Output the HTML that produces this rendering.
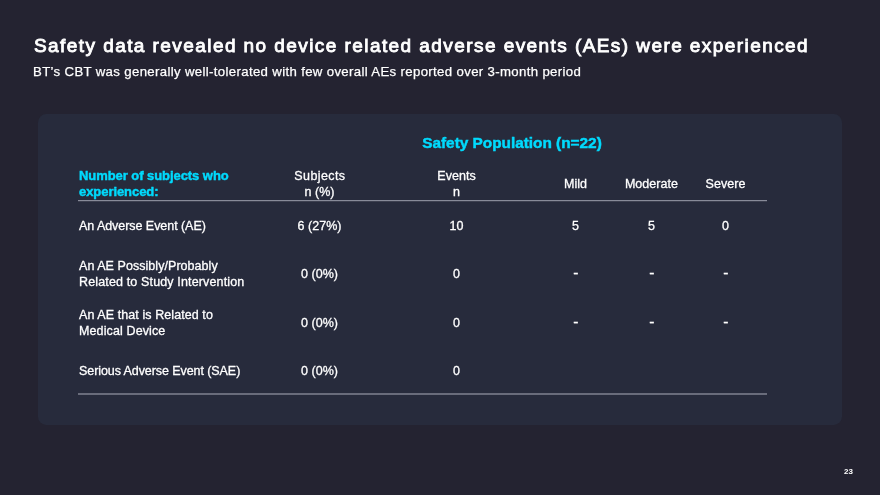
<!DOCTYPE html>
<html><head><meta charset="utf-8">
<style>
html,body{margin:0;padding:0}
body{width:880px;height:495px;background:#242331;position:relative;overflow:hidden;font-family:"Liberation Sans",sans-serif;color:#fff}
.t{position:absolute;white-space:nowrap;line-height:1}
.c{transform:translateX(-50%)}
#title{left:34px;top:36px;font-size:19px;font-weight:normal;-webkit-text-stroke:0.85px #fff;letter-spacing:1.43px}
#sub{left:33px;top:65px;font-size:13.2px;letter-spacing:0.35px;-webkit-text-stroke:0.25px #fff}
#card{position:absolute;left:37.8px;top:113.5px;width:804.7px;height:311.8px;background:#272b3c;border-radius:8.5px}
.cy{color:#00dafd;font-weight:bold;-webkit-text-stroke:0.45px #00dafd}
.hl{position:absolute;left:77.6px;width:689.6px}
.r{font-size:12.5px;-webkit-text-stroke:0.3px #fff;letter-spacing:0.05px}
.h{font-size:13px}
</style></head><body>
<div id="title" class="t">Safety data revealed no device related adverse events (AEs) were experienced</div>
<div id="sub" class="t">BT’s CBT was generally well-tolerated with few overall AEs reported over 3-month period</div>
<div id="card"></div>
<div class="t cy c" style="left:512px;top:134.8px;font-size:15.4px;letter-spacing:-0.02px">Safety Population (n=22)</div>
<div class="t cy h" style="left:79px;top:169.3px;letter-spacing:-0.06px">Number of subjects who</div>
<div class="t cy h" style="left:79px;top:185px;letter-spacing:-0.06px">experienced:</div>
<div class="t r c" style="left:319.9px;top:169.7px;letter-spacing:0.4px">Subjects</div>
<div class="t r c" style="left:319.5px;top:185.7px;">n (%)</div>
<div class="t r c" style="left:456.5px;top:169.7px;">Events</div>
<div class="t r c" style="left:456.5px;top:185.7px;">n</div>
<div class="t r c" style="left:575.5px;top:177.9px;">Mild</div>
<div class="t r c" style="left:651.5px;top:177.9px;">Moderate</div>
<div class="t r c" style="left:725.5px;top:177.9px;">Severe</div>
<div class="hl" style="top:200px;height:2px;background:linear-gradient(#888b99 50%,#3d4050 50%)"></div>
<div class="t r" style="left:79px;top:220.2px;letter-spacing:-0.05px">An Adverse Event (AE)</div>
<div class="t r c" style="left:319.5px;top:220px;">6 (27%)</div>
<div class="t r c" style="left:456.5px;top:220px;">10</div>
<div class="t r c" style="left:575.5px;top:220px;">5</div>
<div class="t r c" style="left:651.5px;top:220px;">5</div>
<div class="t r c" style="left:725.5px;top:220px;">0</div>
<div class="t r" style="left:79px;top:260.4px;">An AE Possibly/Probably</div>
<div class="t r" style="left:79px;top:275.8px;letter-spacing:0.145px">Related to Study Intervention</div>
<div class="t r c" style="left:319.5px;top:268px;">0 (0%)</div>
<div class="t r c" style="left:456.5px;top:268px;">0</div>
<div class="t r c" style="left:575.8px;top:265px;font-size:15.5px">-</div>
<div class="t r c" style="left:651.8px;top:265px;font-size:15.5px">-</div>
<div class="t r c" style="left:725.8px;top:265px;font-size:15.5px">-</div>
<div class="t r" style="left:79px;top:308.7px;letter-spacing:0.08px">An AE that is Related to</div>
<div class="t r" style="left:79px;top:325px;letter-spacing:0.12px">Medical Device</div>
<div class="t r c" style="left:319.5px;top:317px;">0 (0%)</div>
<div class="t r c" style="left:456.5px;top:317px;">0</div>
<div class="t r c" style="left:575.8px;top:314px;font-size:15.5px">-</div>
<div class="t r c" style="left:651.8px;top:314px;font-size:15.5px">-</div>
<div class="t r c" style="left:725.8px;top:314px;font-size:15.5px">-</div>
<div class="t r" style="left:79px;top:365.4px;letter-spacing:-0.076px">Serious Adverse Event (SAE)</div>
<div class="t r c" style="left:319.5px;top:365.4px;">0 (0%)</div>
<div class="t r c" style="left:456.5px;top:365.4px;">0</div>
<div class="hl" style="top:393px;height:2px;background:#696c7b"></div>
<div class="t " style="left:844px;top:468px;font-size:8px;font-weight:bold">23</div>
</body></html>
